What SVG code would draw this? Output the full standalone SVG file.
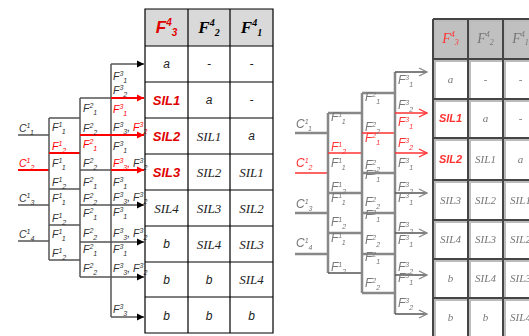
<svg xmlns="http://www.w3.org/2000/svg" width="529" height="336" viewBox="0 0 529 336">
<defs>
<style>
.ln{stroke:#555;stroke-width:1.5;fill:none}
.rd{stroke:#ff0000;stroke-width:2;fill:none}
.lb{font-family:"Liberation Sans",Arial,sans-serif;font-style:italic;font-size:10.5px;fill:#333}
.r{fill:#ff0000}
.sp,.sb{font-size:7px}
.tb{stroke:#000;stroke-width:1.2;fill:none}
.hd{fill:#d9d9d9}
.tt{font-family:"Liberation Serif","Times New Roman",serif;font-style:italic;font-size:13px;fill:#222;text-anchor:middle}
.ts{font-family:"Liberation Sans",Arial,sans-serif;font-style:italic;font-size:12px;fill:#222;text-anchor:middle}
.tr{font-family:"Liberation Sans",Arial,sans-serif;font-style:italic;font-weight:bold;font-size:13px;fill:#e00000;text-anchor:middle}
.th{font-family:"Liberation Serif","Times New Roman",serif;font-style:italic;font-weight:bold;font-size:17px;fill:#000;text-anchor:middle}
.thr{font-family:"Liberation Sans",Arial,sans-serif;font-style:italic;font-weight:bold;font-size:17px;fill:#e00000;text-anchor:middle}
.hs{font-size:10px}
.g2{stroke:#888;stroke-width:2.5;fill:none}
.g2r{stroke:#ff3333;stroke-width:1.5;fill:none}
.lb2{font-family:"Liberation Sans",Arial,sans-serif;font-style:italic;font-size:12px;fill:#777}
.r2{fill:#ff3333}
.tb2{stroke:#444;stroke-width:2;fill:none}
.tt2{font-family:"Liberation Serif","Times New Roman",serif;font-style:italic;font-size:11px;fill:#777;text-anchor:middle}
.tr2{font-family:"Liberation Sans",Arial,sans-serif;font-style:italic;font-weight:bold;font-size:11px;fill:#ff3333;text-anchor:middle}
</style>
<marker id="ab" markerWidth="8" markerHeight="8" refX="7" refY="4" orient="auto" markerUnits="userSpaceOnUse"><path d="M0,0.5 L7,4 L0,7.5 Z" fill="#000"/></marker>
<marker id="ar" markerWidth="8" markerHeight="8" refX="7" refY="4" orient="auto" markerUnits="userSpaceOnUse"><path d="M0,0.5 L7,4 L0,7.5 Z" fill="#ff0000"/></marker>
<marker id="ag" markerWidth="10" markerHeight="10" refX="9" refY="5" orient="auto" markerUnits="userSpaceOnUse"><path d="M1,1 L9,5 L1,9" fill="none" stroke="#888" stroke-width="1.3"/></marker>
<marker id="agr" markerWidth="10" markerHeight="10" refX="9" refY="5" orient="auto" markerUnits="userSpaceOnUse"><path d="M1,1 L9,5 L1,9" fill="none" stroke="#ff3333" stroke-width="1.3"/></marker>
<filter id="bl" x="-5%" y="-5%" width="110%" height="110%"><feGaussianBlur stdDeviation="0.5"/></filter>
</defs>
<rect width="529" height="336" fill="#fff"/>

<!-- LEFT DIAGRAM -->
<g id="connectors">
<path class="ln" d="M18,135H49 M18,205H49 M18,241H49"/>
<path class="rd" d="M18,170H49"/>
<path class="ln" d="M49,118V260 M49,118H80 M49,189H80 M49,225H80 M49,260H80"/>
<path class="rd" d="M49,153H80"/>
<path class="ln" d="M80,98V277 M80,98H111 M80,170H111"/>
<path class="ln" d="M111,64V317"/>
<path class="rd" d="M80,135H144" marker-end="url(#ar)"/>
<path class="rd" d="M111,98H144" marker-end="url(#ar)"/>
<path class="rd" d="M111,170H144" marker-end="url(#ar)"/>
<path class="ln" d="M111,64H144" marker-end="url(#ab)"/>
<path class="ln" d="M80,205H144" marker-end="url(#ab)"/>
<path class="ln" d="M80,242H144" marker-end="url(#ab)"/>
<path class="ln" d="M80,277H144" marker-end="url(#ab)"/>
<path class="ln" d="M111,317H144" marker-end="url(#ab)"/>
</g>

<g id="inputs">
<text class="lb" x="19" y="132">C<tspan class="sp" dy="-4">1</tspan><tspan class="sb" dy="7">1</tspan></text>
<text class="lb r" x="19" y="167">C<tspan class="sp" dy="-4">1</tspan><tspan class="sb" dy="7">2</tspan></text>
<text class="lb" x="19" y="202">C<tspan class="sp" dy="-4">1</tspan><tspan class="sb" dy="7">3</tspan></text>
<text class="lb" x="19" y="238">C<tspan class="sp" dy="-4">1</tspan><tspan class="sb" dy="7">4</tspan></text>
</g>

<g id="stage1">
<text class="lb" x="52" y="131">F<tspan class="sp" dy="-4">1</tspan><tspan class="sb" dy="7">1</tspan></text>
<text class="lb r" x="52" y="150">F<tspan class="sp" dy="-4">1</tspan><tspan class="sb" dy="7">2</tspan></text>
<text class="lb" x="52" y="167">F<tspan class="sp" dy="-4">1</tspan><tspan class="sb" dy="7">1</tspan></text>
<text class="lb" x="52" y="186">F<tspan class="sp" dy="-4">1</tspan><tspan class="sb" dy="7">2</tspan></text>
<text class="lb" x="52" y="202">F<tspan class="sp" dy="-4">1</tspan><tspan class="sb" dy="7">1</tspan></text>
<text class="lb" x="52" y="222">F<tspan class="sp" dy="-4">1</tspan><tspan class="sb" dy="7">2</tspan></text>
<text class="lb" x="52" y="238">F<tspan class="sp" dy="-4">1</tspan><tspan class="sb" dy="7">1</tspan></text>
<text class="lb" x="52" y="257">F<tspan class="sp" dy="-4">1</tspan><tspan class="sb" dy="7">2</tspan></text>
</g>

<g id="stage2">
<text class="lb" x="83" y="112">F<tspan class="sp" dy="-4">2</tspan><tspan class="sb" dy="7">1</tspan></text>
<text class="lb" x="83" y="132">F<tspan class="sp" dy="-4">2</tspan><tspan class="sb" dy="7">2</tspan></text>
<text class="lb r" x="83" y="148">F<tspan class="sp" dy="-4">2</tspan><tspan class="sb" dy="7">1</tspan></text>
<text class="lb" x="83" y="167">F<tspan class="sp" dy="-4">2</tspan><tspan class="sb" dy="7">2</tspan></text>
<text class="lb" x="83" y="186">F<tspan class="sp" dy="-4">2</tspan><tspan class="sb" dy="7">1</tspan></text>
<text class="lb" x="83" y="202">F<tspan class="sp" dy="-4">2</tspan><tspan class="sb" dy="7">2</tspan></text>
<text class="lb" x="83" y="217">F<tspan class="sp" dy="-4">2</tspan><tspan class="sb" dy="7">1</tspan></text>
<text class="lb" x="83" y="237">F<tspan class="sp" dy="-4">2</tspan><tspan class="sb" dy="7">2</tspan></text>
<text class="lb" x="83" y="253">F<tspan class="sp" dy="-4">2</tspan><tspan class="sb" dy="7">1</tspan></text>
<text class="lb" x="83" y="272">F<tspan class="sp" dy="-4">2</tspan><tspan class="sb" dy="7">2</tspan></text>
</g>

<g id="stage3">
<text class="lb" x="113" y="80">F<tspan class="sp" dy="-4">3</tspan><tspan class="sb" dy="7">1</tspan></text>
<text class="lb" x="113" y="94">F<tspan class="sp" dy="-4">3</tspan><tspan class="sb" dy="7">2</tspan></text>
<text class="lb r" x="113" y="113">F<tspan class="sp" dy="-4">3</tspan><tspan class="sb" dy="7">1</tspan></text>
<text class="lb" x="113" y="131">F<tspan class="sp" dy="-4">3</tspan><tspan class="sb" dy="7">3</tspan><tspan dy="-3">, </tspan><tspan class="r">F</tspan><tspan class="sp r" dy="-4">3</tspan><tspan class="sb r" dy="7">2</tspan></text>
<text class="lb" x="113" y="150">F<tspan class="sp" dy="-4">3</tspan><tspan class="sb" dy="7">1</tspan></text>
<text class="lb r" x="113" y="167">F<tspan class="sp" dy="-4">3</tspan><tspan class="sb" dy="7">3</tspan><tspan dy="-3">, </tspan><tspan fill="#333">F</tspan><tspan class="sp" fill="#333" dy="-4">3</tspan><tspan class="sb" fill="#333" dy="7">2</tspan></text>
<text class="lb" x="113" y="186">F<tspan class="sp" dy="-4">3</tspan><tspan class="sb" dy="7">1</tspan></text>
<text class="lb" x="113" y="201">F<tspan class="sp" dy="-4">3</tspan><tspan class="sb" dy="7">3</tspan><tspan dy="-3">, F</tspan><tspan class="sp" dy="-4">3</tspan><tspan class="sb" dy="7">2</tspan></text>
<text class="lb" x="113" y="216">F<tspan class="sp" dy="-4">3</tspan><tspan class="sb" dy="7">1</tspan></text>
<text class="lb" x="113" y="237">F<tspan class="sp" dy="-4">3</tspan><tspan class="sb" dy="7">3</tspan><tspan dy="-3">, F</tspan><tspan class="sp" dy="-4">3</tspan><tspan class="sb" dy="7">2</tspan></text>
<text class="lb" x="113" y="253">F<tspan class="sp" dy="-4">3</tspan><tspan class="sb" dy="7">1</tspan></text>
<text class="lb" x="113" y="272">F<tspan class="sp" dy="-4">3</tspan><tspan class="sb" dy="7">3</tspan><tspan dy="-3">, F</tspan><tspan class="sp" dy="-4">3</tspan><tspan class="sb" dy="7">2</tspan></text>
<text class="lb" x="113" y="313">F<tspan class="sp" dy="-4">3</tspan><tspan class="sb" dy="7">3</tspan></text>
</g>

<g id="table">
<rect class="hd" x="145" y="9" width="128" height="37"/>
<path class="tb" d="M145,9H273V333H145Z M188,9V333 M230,9V333 M145,46H273 M145,82H273 M145,118H273 M145,154H273 M145,190H273 M145,226H273 M145,262H273 M145,297H273"/>
<text class="thr" x="166.5" y="33">F<tspan class="hs" dy="-7">4</tspan><tspan class="hs" dy="10">3</tspan></text>
<text class="th" x="209" y="33">F<tspan class="hs" dy="-7">4</tspan><tspan class="hs" dy="10">2</tspan></text>
<text class="th" x="251.5" y="33">F<tspan class="hs" dy="-7">4</tspan><tspan class="hs" dy="10">1</tspan></text>
<text class="ts" x="166.5" y="68">a</text><text class="ts" x="209" y="68">-</text><text class="ts" x="251.5" y="68">-</text>
<text class="tr" x="166.5" y="104.5">SIL1</text><text class="ts" x="209" y="104">a</text><text class="ts" x="251.5" y="104">-</text>
<text class="tr" x="166.5" y="140.5">SIL2</text><text class="tt" x="209" y="140.5">SIL1</text><text class="ts" x="251.5" y="140">a</text>
<text class="tr" x="166.5" y="176.5">SIL3</text><text class="tt" x="209" y="176.5">SIL2</text><text class="tt" x="251.5" y="176.5">SIL1</text>
<text class="tt" x="166.5" y="212.5">SIL4</text><text class="tt" x="209" y="212.5">SIL3</text><text class="tt" x="251.5" y="212.5">SIL2</text>
<text class="ts" x="166.5" y="248">b</text><text class="tt" x="209" y="248.5">SIL4</text><text class="tt" x="251.5" y="248.5">SIL3</text>
<text class="ts" x="166.5" y="284">b</text><text class="ts" x="209" y="284">b</text><text class="tt" x="251.5" y="284">SIL4</text>
<text class="ts" x="166.5" y="319.5">b</text><text class="ts" x="209" y="319.5">b</text><text class="ts" x="251.5" y="319.5">b</text>
</g>

<!-- RIGHT (BLURRED) DIAGRAM -->
<g id="right-diagram" filter="url(#bl)">
<g id="r-connectors">
<path class="g2" d="M295,133H328 M295,213H328 M295,254H328"/>
<path class="g2r" d="M295,173H328"/>
<path class="g2" d="M328,113V273 M328,113H362 M328,193H362 M328,233H362"/>
<path class="ln" d="M328,273H362"/>
<path class="g2r" d="M328,153H362"/>
<path class="g2" d="M362,93V293 M362,93H395 M362,173H395 M362,213H395 M362,254H395 M362,293H395"/>
<path class="g2r" d="M362,133H395"/>
<path class="g2" d="M395,72V314"/>
<path class="ln" d="M395,72H427" marker-end="url(#ag)"/>
<path class="g2r" d="M395,113H427" marker-end="url(#agr)"/>
<path class="g2r" d="M395,153H427" marker-end="url(#agr)"/>
<path class="ln" d="M395,193H427" marker-end="url(#ag)"/>
<path class="ln" d="M395,233H427" marker-end="url(#ag)"/>
<path class="ln" d="M395,275H427" marker-end="url(#ag)"/>
<path class="ln" d="M395,314H427" marker-end="url(#ag)"/>
</g>
<g id="r-inputs">
<text class="lb2" x="296" y="128">C<tspan class="sp" dy="-4">1</tspan><tspan class="sb" dy="7">1</tspan></text>
<text class="lb2 r2" x="296" y="167">C<tspan class="sp" dy="-4">1</tspan><tspan class="sb" dy="7">2</tspan></text>
<text class="lb2" x="296" y="208">C<tspan class="sp" dy="-4">1</tspan><tspan class="sb" dy="7">3</tspan></text>
<text class="lb2" x="296" y="247">C<tspan class="sp" dy="-4">1</tspan><tspan class="sb" dy="7">4</tspan></text>
</g>
<g id="r-stage1">
<text class="lb2" x="331" y="121">F<tspan class="sp" dy="-4">1</tspan><tspan class="sb" dy="7">1</tspan></text>
<text class="lb2 r2" x="331" y="151">F<tspan class="sp" dy="-4">1</tspan><tspan class="sb" dy="7">2</tspan></text>
<text class="lb2" x="331" y="167">F<tspan class="sp" dy="-4">1</tspan><tspan class="sb" dy="7">1</tspan></text>
<text class="lb2" x="331" y="191">F<tspan class="sp" dy="-4">1</tspan><tspan class="sb" dy="7">2</tspan></text>
<text class="lb2" x="331" y="202">F<tspan class="sp" dy="-4">1</tspan><tspan class="sb" dy="7">1</tspan></text>
<text class="lb2" x="331" y="226">F<tspan class="sp" dy="-4">1</tspan><tspan class="sb" dy="7">2</tspan></text>
<text class="lb2" x="331" y="242">F<tspan class="sp" dy="-4">1</tspan><tspan class="sb" dy="7">1</tspan></text>
<text class="lb2" x="331" y="271">F<tspan class="sp" dy="-4">1</tspan><tspan class="sb" dy="7">2</tspan></text>
</g>
<g id="r-stage2">
<text class="lb2" x="365" y="101">F<tspan class="sp" dy="-4">2</tspan><tspan class="sb" dy="7">1</tspan></text>
<text class="lb2" x="365" y="131">F<tspan class="sp" dy="-4">2</tspan><tspan class="sb" dy="7">2</tspan></text>
<text class="lb2 r2" x="365" y="142">F<tspan class="sp" dy="-4">2</tspan><tspan class="sb" dy="7">1</tspan></text>
<text class="lb2" x="365" y="169">F<tspan class="sp" dy="-4">2</tspan><tspan class="sb" dy="7">2</tspan></text>
<text class="lb2" x="365" y="179">F<tspan class="sp" dy="-4">2</tspan><tspan class="sb" dy="7">1</tspan></text>
<text class="lb2" x="365" y="206">F<tspan class="sp" dy="-4">2</tspan><tspan class="sb" dy="7">2</tspan></text>
<text class="lb2" x="365" y="219">F<tspan class="sp" dy="-4">2</tspan><tspan class="sb" dy="7">1</tspan></text>
<text class="lb2" x="365" y="244">F<tspan class="sp" dy="-4">2</tspan><tspan class="sb" dy="7">2</tspan></text>
<text class="lb2" x="365" y="261">F<tspan class="sp" dy="-4">2</tspan><tspan class="sb" dy="7">1</tspan></text>
<text class="lb2" x="365" y="287">F<tspan class="sp" dy="-4">2</tspan><tspan class="sb" dy="7">2</tspan></text>
</g>
<g id="r-stage3">
<text class="lb2" x="398" y="84">F<tspan class="sp" dy="-4">3</tspan><tspan class="sb" dy="7">1</tspan></text>
<text class="lb2" x="398" y="109">F<tspan class="sp" dy="-4">3</tspan><tspan class="sb" dy="7">2</tspan></text>
<text class="lb2 r2" x="398" y="126">F<tspan class="sp" dy="-4">3</tspan><tspan class="sb" dy="7">1</tspan></text>
<text class="lb2 r2" x="398" y="147">F<tspan class="sp" dy="-4">3</tspan><tspan class="sb" dy="7">2</tspan></text>
<text class="lb2" x="398" y="167">F<tspan class="sp" dy="-4">3</tspan><tspan class="sb" dy="7">1</tspan></text>
<text class="lb2" x="398" y="191">F<tspan class="sp" dy="-4">3</tspan><tspan class="sb" dy="7">2</tspan></text>
<text class="lb2" x="398" y="202">F<tspan class="sp" dy="-4">3</tspan><tspan class="sb" dy="7">1</tspan></text>
<text class="lb2" x="398" y="231">F<tspan class="sp" dy="-4">3</tspan><tspan class="sb" dy="7">2</tspan></text>
<text class="lb2" x="398" y="244">F<tspan class="sp" dy="-4">3</tspan><tspan class="sb" dy="7">1</tspan></text>
<text class="lb2" x="398" y="271">F<tspan class="sp" dy="-4">3</tspan><tspan class="sb" dy="7">2</tspan></text>
<text class="lb2" x="398" y="282">F<tspan class="sp" dy="-4">3</tspan><tspan class="sb" dy="7">1</tspan></text>
<text class="lb2" x="398" y="307">F<tspan class="sp" dy="-4">3</tspan><tspan class="sb" dy="7">2</tspan></text>
</g>
<g id="r-table">
<rect x="433" y="19" width="110" height="40" fill="#c0c0c0"/>
<path d="M435,21H545 M435,61H545 M435,101H545 M435,140H545 M435,182H545 M435,222H545 M435,261H545 M435,300H545 M435,21V340 M470,21V340 M505,21V340" stroke="#bbb" stroke-width="2" fill="none"/>
<path class="tb2" d="M433,19H545 M433,59H545 M433,99H545 M433,138H545 M433,180H545 M433,220H545 M433,259H545 M433,298H545 M433,19V338 M468,19V338 M503,19V338"/>
<text class="tt2" x="450.5" y="43" fill="#ff3333" style="fill:#ff3333;font-size:14px">F<tspan font-size="8" dy="-6">4</tspan><tspan font-size="8" dy="8">3</tspan></text>
<text class="tt2" x="485.5" y="43" style="font-size:14px">F<tspan font-size="8" dy="-6">4</tspan><tspan font-size="8" dy="8">2</tspan></text>
<text class="tt2" x="520.5" y="43" style="font-size:14px">F<tspan font-size="8" dy="-6">4</tspan><tspan font-size="8" dy="8">1</tspan></text>
<text class="tt2" x="450.5" y="83">a</text><text class="tt2" x="485.5" y="83">-</text><text class="tt2" x="520.5" y="83">-</text>
<text class="tr2" x="450.5" y="122">SIL1</text><text class="tt2" x="485.5" y="122">a</text><text class="tt2" x="520.5" y="122">-</text>
<text class="tr2" x="450.5" y="163">SIL2</text><text class="tt2" x="485.5" y="163">SIL1</text><text class="tt2" x="520.5" y="163">a</text>
<text class="tt2" x="450.5" y="204">SIL3</text><text class="tt2" x="485.5" y="204">SIL2</text><text class="tt2" x="520.5" y="204">SIL1</text>
<text class="tt2" x="450.5" y="243">SIL4</text><text class="tt2" x="485.5" y="243">SIL3</text><text class="tt2" x="520.5" y="243">SIL2</text>
<text class="tt2" x="450.5" y="282">b</text><text class="tt2" x="485.5" y="282">SIL4</text><text class="tt2" x="520.5" y="282">SIL3</text>
<text class="tt2" x="450.5" y="321">b</text><text class="tt2" x="485.5" y="321">b</text><text class="tt2" x="520.5" y="321">SIL4</text>
</g>
</g>
</svg>
